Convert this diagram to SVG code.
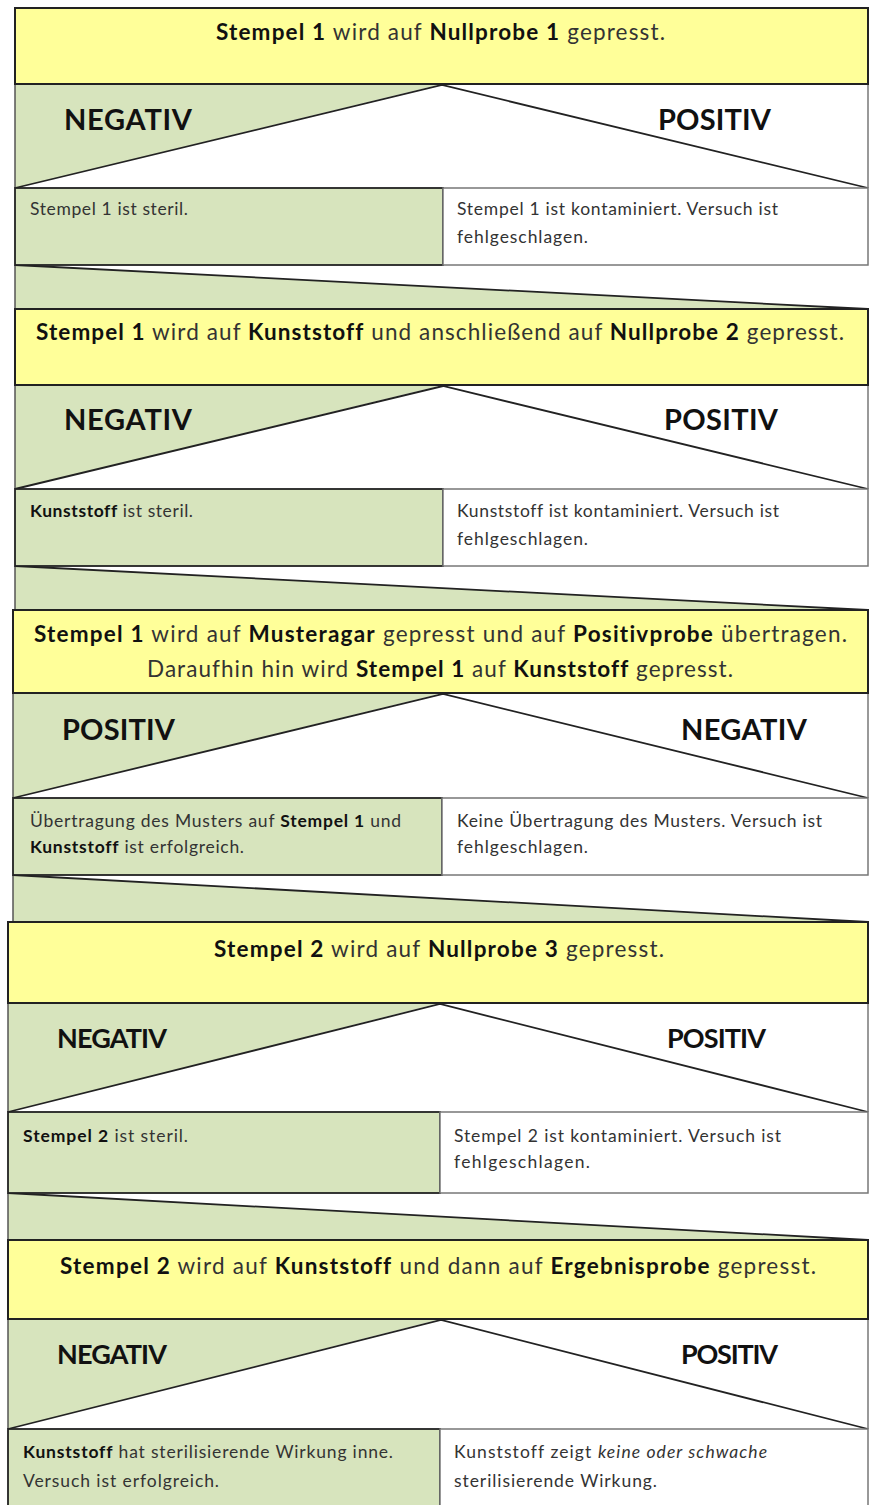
<svg xmlns="http://www.w3.org/2000/svg" width="871" height="1505" viewBox="0 0 871 1505">
<style>
.bg{fill:#ffffff}
.yel{fill:#FFFF99;stroke:#222;stroke-width:2}
.gc{fill:#D7E4BD;stroke:#222;stroke-width:1.8}
.wc{fill:#ffffff;stroke:#777;stroke-width:1.5}
.gf{fill:#D7E4BD;stroke:none}
.diag{stroke:#222;stroke-width:1.8;fill:none}
.side{stroke:#777;stroke-width:1.5;fill:none}
.sideg{stroke:#555;stroke-width:1.5;fill:none}
text{font-variant-ligatures:none}
.hd{font-family:Lato,'Liberation Sans',sans-serif;font-size:22.5px;fill:#333;text-anchor:middle}
.lb{font-family:Lato,'Liberation Sans',sans-serif;font-weight:bold;fill:#111}
.ct{font-family:Lato,'Liberation Sans',sans-serif;font-size:17.5px;fill:#333}
.b{font-weight:bold;fill:#111}
.i{font-style:italic}
</style>
<rect class="bg" x="0" y="0" width="871" height="1505"/>

<g id="connectors">
  <!-- split triangles -->
  <polygon class="gf" points="15,84 442,84 15,188"/>
  <polyline class="diag" points="15,188 442,85 868,188"/>
  <line class="sideg" x1="15" y1="84" x2="15" y2="188"/>
  <line class="side" x1="868" y1="84" x2="868" y2="188"/>

  <polygon class="gf" points="15,385 443,385 15,489"/>
  <polyline class="diag" points="15,489 443,386 868,489"/>
  <line class="sideg" x1="15" y1="385" x2="15" y2="489"/>
  <line class="side" x1="868" y1="385" x2="868" y2="489"/>

  <polygon class="gf" points="13,693 443,693 13,798"/>
  <polyline class="diag" points="13,798 443,694 868,798"/>
  <line class="sideg" x1="13" y1="693" x2="13" y2="798"/>
  <line class="side" x1="868" y1="693" x2="868" y2="798"/>

  <polygon class="gf" points="8,1003 440,1003 8,1112"/>
  <polyline class="diag" points="8,1112 440,1004 868,1112"/>
  <line class="sideg" x1="8" y1="1003" x2="8" y2="1112"/>
  <line class="side" x1="868" y1="1003" x2="868" y2="1112"/>

  <polygon class="gf" points="8,1319 441,1319 8,1429"/>
  <polyline class="diag" points="8,1429 441,1320 868,1429"/>
  <line class="sideg" x1="8" y1="1319" x2="8" y2="1429"/>
  <line class="side" x1="868" y1="1319" x2="868" y2="1429"/>

  <!-- funnels between sections -->
  <polygon class="gf" points="15,265 868,309 15,309"/>
  <line class="diag" x1="15" y1="265" x2="868" y2="309"/>
  <line class="sideg" x1="15" y1="265" x2="15" y2="309"/>

  <polygon class="gf" points="15,566 868,610 15,610"/>
  <line class="diag" x1="15" y1="566" x2="868" y2="610"/>
  <line class="sideg" x1="15" y1="566" x2="15" y2="610"/>

  <polygon class="gf" points="13,875 868,922 13,922"/>
  <line class="diag" x1="13" y1="875" x2="868" y2="922"/>
  <line class="sideg" x1="13" y1="875" x2="13" y2="922"/>

  <polygon class="gf" points="8,1193 868,1240 8,1240"/>
  <line class="diag" x1="8" y1="1193" x2="868" y2="1240"/>
  <line class="sideg" x1="8" y1="1193" x2="8" y2="1240"/>
</g>

<!-- Section 1 -->
<g id="s1-step">
  <rect class="yel" x="15" y="8" width="853" height="76"/>
  <text class="hd" x="440.5" y="40" textLength="449"><tspan class="b">Stempel 1</tspan> wird auf <tspan class="b">Nullprobe 1</tspan> gepresst.</text>
</g>
<g id="s1-labels">
  <text class="lb" x="64" y="130" font-size="29" textLength="128">NEGATIV</text>
  <text class="lb" x="658" y="130" font-size="29" textLength="113">POSITIV</text>
</g>
<g id="s1-neg">
  <rect class="gc" x="15" y="188" width="428" height="77"/>
  <text class="ct" x="30" y="215" textLength="158">Stempel 1 ist steril.</text>
</g>
<g id="s1-pos">
  <rect class="wc" x="443" y="188" width="425" height="77"/>
  <text class="ct" x="457" y="215" textLength="321">Stempel 1 ist kontaminiert. Versuch ist</text>
  <text class="ct" x="457" y="243" textLength="131">fehlgeschlagen.</text>
</g>

<!-- Section 2 -->
<g id="s2-step">
  <rect class="yel" x="15" y="309" width="853" height="76"/>
  <text class="hd" x="440" y="340" textLength="808"><tspan class="b">Stempel 1</tspan> wird auf <tspan class="b">Kunststoff</tspan> und anschließend auf <tspan class="b">Nullprobe 2</tspan> gepresst.</text>
</g>
<g id="s2-labels">
  <text class="lb" x="64" y="430" font-size="29" textLength="128">NEGATIV</text>
  <text class="lb" x="664" y="430" font-size="29" textLength="114">POSITIV</text>
</g>
<g id="s2-neg">
  <rect class="gc" x="15" y="489" width="428" height="77"/>
  <text class="ct" x="30" y="517" textLength="163"><tspan class="b">Kunststoff</tspan> ist steril.</text>
</g>
<g id="s2-pos">
  <rect class="wc" x="443" y="489" width="425" height="77"/>
  <text class="ct" x="457" y="517" textLength="322">Kunststoff ist kontaminiert. Versuch ist</text>
  <text class="ct" x="457" y="545" textLength="131">fehlgeschlagen.</text>
</g>

<!-- Section 3 -->
<g id="s3-step">
  <rect class="yel" x="13" y="610" width="855" height="83"/>
  <text class="hd" x="440.5" y="642" textLength="813"><tspan class="b">Stempel 1</tspan> wird auf <tspan class="b">Musteragar</tspan> gepresst und auf <tspan class="b">Positivprobe</tspan> übertragen.</text>
  <text class="hd" x="440" y="677" textLength="586">Daraufhin hin wird <tspan class="b">Stempel 1</tspan> auf <tspan class="b">Kunststoff</tspan> gepresst.</text>
</g>
<g id="s3-labels">
  <text class="lb" x="62" y="740" font-size="29" textLength="113">POSITIV</text>
  <text class="lb" x="681" y="740" font-size="29" textLength="126">NEGATIV</text>
</g>
<g id="s3-pos">
  <rect class="gc" x="13" y="798" width="429" height="77"/>
  <text class="ct" x="30" y="827" textLength="371">Übertragung des Musters auf <tspan class="b">Stempel 1</tspan> und</text>
  <text class="ct" x="30" y="853" textLength="214"><tspan class="b">Kunststoff</tspan> ist erfolgreich.</text>
</g>
<g id="s3-neg">
  <rect class="wc" x="442" y="798" width="426" height="77"/>
  <text class="ct" x="457" y="827" textLength="365">Keine Übertragung des Musters. Versuch ist</text>
  <text class="ct" x="457" y="853" textLength="131">fehlgeschlagen.</text>
</g>

<!-- Section 4 -->
<g id="s4-step">
  <rect class="yel" x="8" y="922" width="860" height="81"/>
  <text class="hd" x="439" y="957" textLength="450"><tspan class="b">Stempel 2</tspan> wird auf <tspan class="b">Nullprobe 3</tspan> gepresst.</text>
</g>
<g id="s4-labels">
  <text class="lb" x="57" y="1048" font-size="27" textLength="110">NEGATIV</text>
  <text class="lb" x="667" y="1048" font-size="27" textLength="99">POSITIV</text>
</g>
<g id="s4-neg">
  <rect class="gc" x="8" y="1112" width="432" height="81"/>
  <text class="ct" x="23" y="1142" textLength="165"><tspan class="b">Stempel 2</tspan> ist steril.</text>
</g>
<g id="s4-pos">
  <rect class="wc" x="440" y="1112" width="428" height="81"/>
  <text class="ct" x="454" y="1142" textLength="327">Stempel 2 ist kontaminiert. Versuch ist</text>
  <text class="ct" x="454" y="1168" textLength="136">fehlgeschlagen.</text>
</g>

<!-- Section 5 -->
<g id="s5-step">
  <rect class="yel" x="8" y="1240" width="860" height="79"/>
  <text class="hd" x="438" y="1274" textLength="756"><tspan class="b">Stempel 2</tspan> wird auf <tspan class="b">Kunststoff</tspan> und dann auf <tspan class="b">Ergebnisprobe</tspan> gepresst.</text>
</g>
<g id="s5-labels">
  <text class="lb" x="57" y="1364" font-size="27" textLength="110">NEGATIV</text>
  <text class="lb" x="681" y="1364" font-size="27" textLength="97">POSITIV</text>
</g>
<g id="s5-neg">
  <rect class="gc" x="8" y="1429" width="432" height="85"/>
  <text class="ct" x="23" y="1458" textLength="370"><tspan class="b">Kunststoff</tspan> hat sterilisierende Wirkung inne.</text>
  <text class="ct" x="23" y="1487" textLength="196">Versuch ist erfolgreich.</text>
</g>
<g id="s5-pos">
  <rect class="wc" x="440" y="1429" width="428" height="85"/>
  <text class="ct" x="454" y="1458" textLength="313">Kunststoff zeigt <tspan class="i">keine oder schwache</tspan></text>
  <text class="ct" x="454" y="1487" textLength="203">sterilisierende Wirkung.</text>
</g>
</svg>
